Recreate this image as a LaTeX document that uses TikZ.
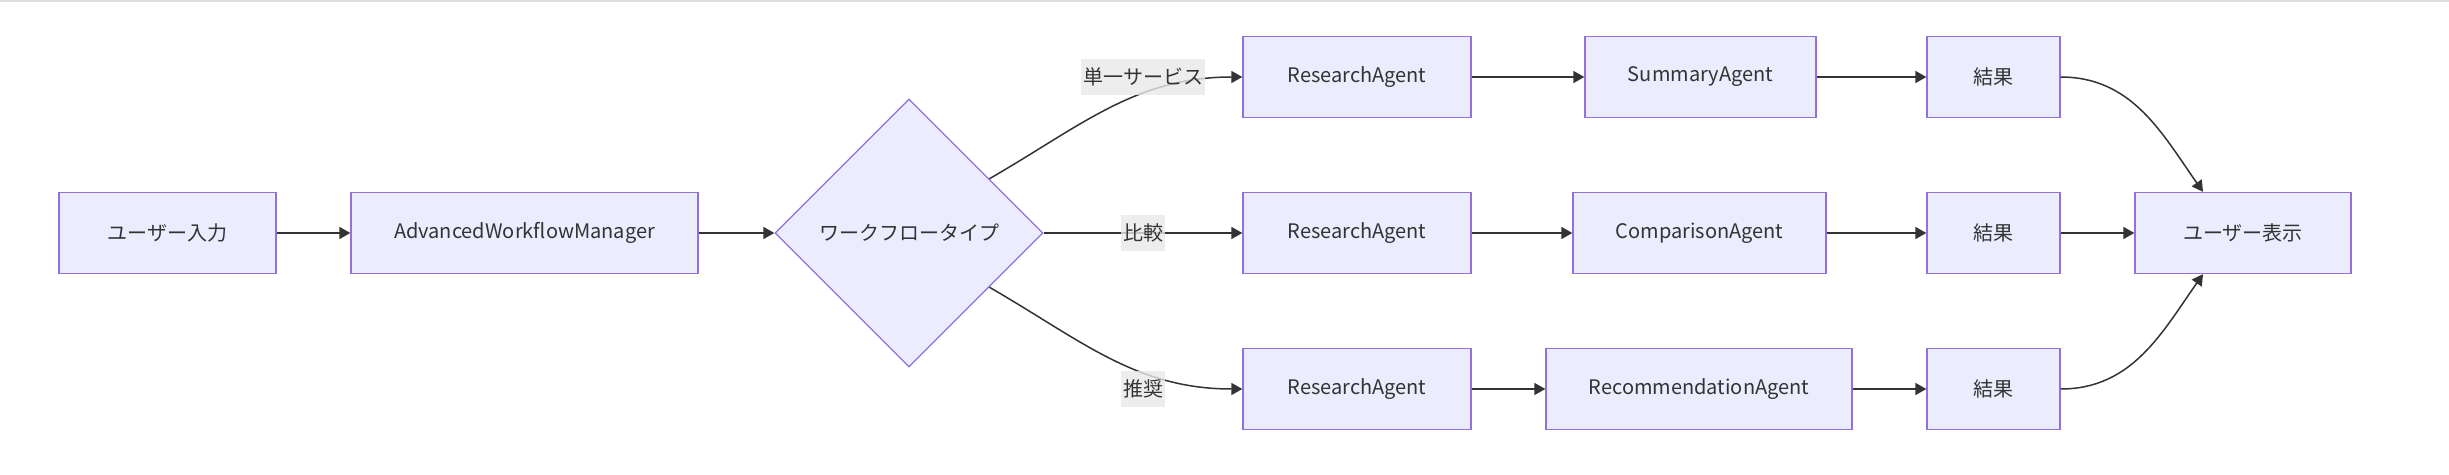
\documentclass[tikz,border=0pt]{standalone}
\usepackage{fontspec}
\setmainfont{Noto Sans CJK JP}
\usetikzlibrary{shapes.geometric,arrows.meta}
\definecolor{boxfill}{HTML}{ECECFF}
\definecolor{boxline}{HTML}{9370DB}
\definecolor{ink}{HTML}{333333}
\definecolor{labelbg}{HTML}{E8E8E8}
\tikzset{
  box/.style={draw=boxline,fill=boxfill,line width=1.3pt,minimum height=81pt,
    inner sep=0pt,text=ink,font=\fontsize{20}{24}\selectfont},
  choice/.style={box,shape=diamond,minimum width=268pt,minimum height=268pt},
  edgelabel/.style={fill=labelbg,fill opacity=0.8,text opacity=1,text=ink,
    inner sep=2pt,minimum height=36pt,font=\fontsize{20}{24}\selectfont},
  flow/.style={draw=ink,line width=1.5pt,-{Triangle[length=11pt,width=12pt]}}
}
\begin{document}
\begin{tikzpicture}[x=1pt,y=1pt]
      \useasboundingbox (0,0) rectangle (2449,474);
      \draw[black!13,line width=2pt] (0,473) -- (2449,473);
      \node[box,minimum width=217pt] (in) at (167.5,241) {ユーザー入力};
      \node[box,minimum width=347pt] (mgr) at (524.5,241) {AdvancedWorkflowManager};
      \node[choice] (type) at (909,241) {ワークフロータイプ};
      \node[box,minimum width=228pt] (r1) at (1357,397) {ResearchAgent};
      \node[box,minimum width=228pt] (r2) at (1357,241) {ResearchAgent};
      \node[box,minimum width=228pt] (r3) at (1357,85) {ResearchAgent};
      \node[box,minimum width=231pt] (sum) at (1700.5,397) {SummaryAgent};
      \node[box,minimum width=253pt] (cmp) at (1699.5,241) {ComparisonAgent};
      \node[box,minimum width=306pt] (rec) at (1699,85) {RecommendationAgent};
      \node[box,minimum width=133pt] (res1) at (1993.5,397) {結果};
      \node[box,minimum width=133pt] (res2) at (1993.5,241) {結果};
      \node[box,minimum width=133pt] (res3) at (1993.5,85) {結果};
      \node[box,minimum width=216pt] (out) at (2243,241) {ユーザー表示};
      \begin{scope}[flow]
        \draw (in) -- (mgr);
        \draw (mgr) -- (type);
        \draw (type.34) to[out=30,in=180] (r1.west);
        \draw (type.east) -- (r2.west);
        \draw (type.-34) to[out=-30,in=180] (r3.west);
        \draw (r1) -- (sum);
        \draw (r2) -- (cmp);
        \draw (r3) -- (rec);
        \draw (sum) -- (res1);
        \draw (cmp) -- (res2);
        \draw (rec) -- (res3);
        \draw (res1.east) to[out=0,in=125] ([xshift=-40pt]out.north);
        \draw (res2) -- (out);
        \draw (res3.east) to[out=0,in=-125] ([xshift=-40pt]out.south);
      \end{scope}
      \node[edgelabel] (lab1) at (1143,397) {単一サービス};
      \node[edgelabel] (lab2) at (1143,241) {比較};
      \node[edgelabel] (lab3) at (1143,85) {推奨};
    \end{tikzpicture}
\end{document}
